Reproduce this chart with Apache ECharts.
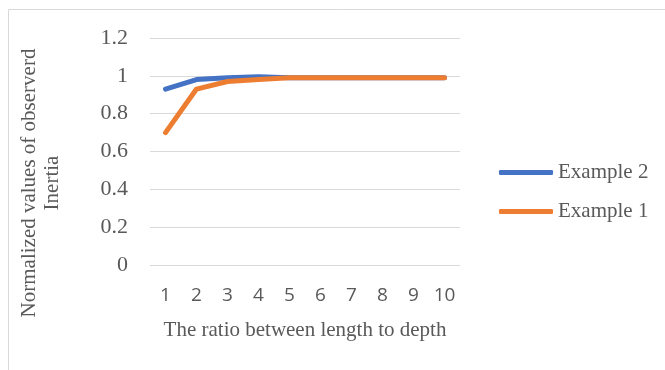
<!DOCTYPE html>
<html>
<head>
<meta charset="utf-8">
<style>html,body{margin:0;padding:0;background:#fff;}#c{width:665px;height:370px;}</style>
<script src="https://cdn.jsdelivr.net/npm/echarts@6/dist/echarts.min.js"></script>
</head>
<body>
<div id="c"></div>
<script>
var categories = ['1','2','3','4','5','6','7','8','9','10'];
var example2 = [0.93, 0.98, 0.99, 0.995, 0.99, 0.99, 0.99, 0.99, 0.99, 0.99];
var example1 = [0.70, 0.93, 0.97, 0.98, 0.99, 0.99, 0.99, 0.99, 0.99, 0.99];
var xAxisTitle = 'The ratio between length to depth';
var yAxisTitle = 'Normalized values of observerd\nInertia';

var chart = echarts.init(document.getElementById('c'), null, {renderer: 'canvas'});
var serif = '"Liberation Serif", "Times New Roman", serif';
chart.setOption({
  animation: false,
  backgroundColor: '#ffffff',
  graphic: [
    {type: 'rect', shape: {x: 8.5, y: 9.5, width: 800, height: 800}, style: {fill: 'none', stroke: '#d9d9d9', lineWidth: 1}, silent: true},
    {type: 'text', x: 41, y: 183, rotation: Math.PI / 2,
     style: {text: yAxisTitle, fill: '#595959', font: '21px ' + serif, align: 'center', verticalAlign: 'middle', lineHeight: 23}}
  ],
  grid: {left: 150, top: 38, width: 310, height: 227, containLabel: false},
  legend: {
    data: ['Example 2', 'Example 1'],
    orient: 'vertical', left: 499, top: 162, padding: 0,
    itemWidth: 54, itemHeight: 5, itemGap: 18,
    icon: 'roundRect',
    textStyle: {fontFamily: serif, fontSize: 21, color: '#595959'}
  },
  xAxis: {
    type: 'category', data: categories, boundaryGap: true,
    axisLine: {show: false}, axisTick: {show: false},
    axisLabel: {fontFamily: '"Open Sans", sans-serif', fontSize: 19, color: '#595959', margin: 21},
    name: xAxisTitle, nameLocation: 'middle', nameGap: 55,
    nameTextStyle: {fontFamily: serif, fontSize: 21, color: '#595959'}
  },
  yAxis: {
    type: 'value', min: 0, max: 1.2, interval: 0.2,
    axisLine: {show: false}, axisTick: {show: false},
    axisLabel: {fontFamily: serif, fontSize: 22, color: '#595959', margin: 22},
    splitLine: {lineStyle: {color: '#d9d9d9', width: 1}}
  },
  series: [
    {name: 'Example 2', type: 'line', data: example2, symbol: 'none', color: '#4472C4',
     lineStyle: {width: 5, color: '#4472C4', cap: 'round', join: 'round'}},
    {name: 'Example 1', type: 'line', data: example1, symbol: 'none', color: '#ED7D31',
     lineStyle: {width: 5, color: '#ED7D31', cap: 'round', join: 'round'}}
  ]
});
</script>
</body>
</html>
